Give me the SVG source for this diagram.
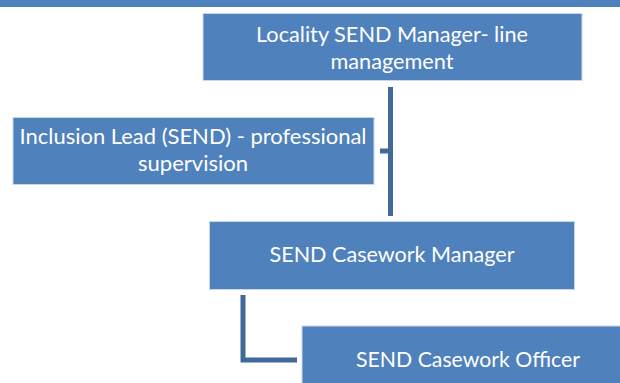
<svg xmlns="http://www.w3.org/2000/svg" width="620" height="383" viewBox="0 0 620 383">
<style>
.box{fill:#4F81BD;stroke:#C9D7EA;stroke-width:1}
.t{font-family:Lato,"Open Sans",sans-serif;font-size:21px;fill:#FFFFFF;text-anchor:middle}
.c{stroke:#41699A;stroke-width:5;fill:none}
</style>
<rect x="0" y="0" width="620" height="7" fill="#4F81BD"/>
<g id="connectors">
<path class="c" d="M390.5 87 V216"/>
<path class="c" d="M380 151 H390"/>
<path class="c" d="M243 295 V360 H297"/>
</g>
<g id="locality">
<rect class="box" x="203" y="13.5" width="379" height="67"/>
<text class="t" x="392" y="42" textLength="272" lengthAdjust="spacingAndGlyphs">Locality SEND Manager- line</text>
<text class="t" x="392" y="69" textLength="123" lengthAdjust="spacingAndGlyphs">management</text>
</g>
<g id="inclusion">
<rect class="box" x="13" y="117.5" width="361" height="67"/>
<text class="t" x="193" y="144" textLength="347" lengthAdjust="spacingAndGlyphs">Inclusion Lead (SEND) - professional</text>
<text class="t" x="193" y="171" textLength="110" lengthAdjust="spacingAndGlyphs">supervision</text>
</g>
<g id="manager">
<rect class="box" x="209.5" y="221.5" width="365" height="68"/>
<text class="t" x="392" y="262" textLength="245" lengthAdjust="spacingAndGlyphs">SEND Casework Manager</text>
</g>
<g id="officer">
<rect class="box" x="302" y="326" width="330" height="70"/>
<text class="t" x="468" y="367" textLength="224" lengthAdjust="spacingAndGlyphs">SEND Casework Officer</text>
</g>
</svg>
